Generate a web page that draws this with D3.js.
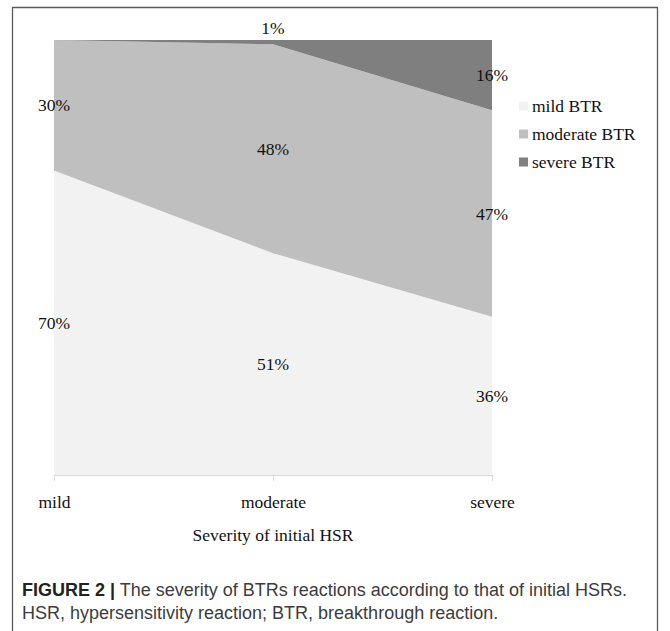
<!DOCTYPE html>
<html>
<head>
<meta charset="utf-8">
<script src="https://cdn.jsdelivr.net/npm/d3@7"></script>
<style>
  html, body { margin: 0; padding: 0; background: #fff; }
  svg { display: block; }
</style>
</head>
<body>
<svg id="chart" width="670" height="631"></svg>
<script>
// Severity of the initial hypersensitivity reaction (x categories)
const categories = ["mild", "moderate", "severe"];
// Share of breakthrough reactions by severity, in percent
const mildBTR = [70, 51, 36];
const moderateBTR = [30, 48, 47];
const severeBTR = [0, 1, 16];
const seriesNames = ["mild BTR", "moderate BTR", "severe BTR"];
const seriesColors = ["#f2f2f2", "#bfbfbf", "#7f7f7f"];
const xTitle = "Severity of initial HSR";
const captionBold = "FIGURE 2 |";
const captionLine1 = " The severity of BTRs reactions according to that of initial HSRs.";
const captionLine2 = "HSR, hypersensitivity reaction; BTR, breakthrough reaction.";

const rows = categories.map((c, i) => ({
  cat: c,
  "mild BTR": mildBTR[i],
  "moderate BTR": moderateBTR[i],
  "severe BTR": severeBTR[i]
}));

const svg = d3.select("#chart");
const serif = "'Liberation Serif', 'Times New Roman', serif";
const sans = "'Liberation Sans', Arial, Helvetica, sans-serif";

// figure frame
svg.append("path")
  .attr("d", "M12.5,631 V7.5 H657.5 V631")
  .attr("fill", "none")
  .attr("stroke", "#5a5a5a")
  .attr("stroke-width", 1.3);

const plot = { left: 54, right: 492, top: 40, bottom: 475 };

const x = d3.scalePoint().domain(categories).range([plot.left, plot.right]);
const y = d3.scaleLinear().domain([0, 1]).range([plot.bottom, plot.top]);

// 100% stacked areas
const stack = d3.stack().keys(seriesNames).offset(d3.stackOffsetExpand);
const layers = stack(rows);

const area = d3.area()
  .x(d => x(d.data.cat))
  .y0(d => y(d[0]))
  .y1(d => y(d[1]));

svg.append("g").selectAll("path")
  .data(layers)
  .join("path")
  .attr("d", area)
  .attr("fill", (d, i) => seriesColors[i]);

// category axis
const xAxis = d3.axisBottom(x).tickSize(6).tickPadding(15).tickFormat(d => d);
const gx = svg.append("g")
  .attr("transform", `translate(0,${plot.bottom})`)
  .call(xAxis);
gx.select(".domain").attr("stroke", "#d9d9d9").attr("d", `M${plot.left},0.5H${plot.right}`);
gx.selectAll(".tick line").attr("stroke", "#d9d9d9");
gx.selectAll(".tick text")
  .attr("font-family", serif)
  .attr("font-size", 17.5)
  .attr("fill", "#111");

// axis title
svg.append("text")
  .attr("x", x("moderate"))
  .attr("y", 541)
  .attr("text-anchor", "middle")
  .attr("font-family", serif)
  .attr("font-size", 17.5)
  .attr("fill", "#111")
  .text(xTitle);

// data labels at the middle of each band; a band too thin to hold one gets it above the plot
const labels = [];
layers.forEach((layer, si) => {
  layer.forEach((d, ci) => {
    const raw = [mildBTR, moderateBTR, severeBTR][si][ci];
    if (raw === 0) return;
    const thin = (y(d[0]) - y(d[1])) < 14;
    labels.push({
      text: raw + "%",
      x: x(d.data.cat),
      y: thin ? y(1) - 12 : y((d[0] + d[1]) / 2)
    });
  });
});
svg.append("g").selectAll("text")
  .data(labels)
  .join("text")
  .attr("x", d => d.x)
  .attr("y", d => d.y)
  .attr("dy", "0.35em")
  .attr("text-anchor", "middle")
  .attr("font-family", serif)
  .attr("font-size", 17.5)
  .attr("fill", "#111")
  .text(d => d.text);

// legend
const legend = svg.append("g").attr("transform", "translate(519,106)");
const li = legend.selectAll("g")
  .data(seriesNames)
  .join("g")
  .attr("transform", (d, i) => `translate(0,${i * 28})`);
li.append("rect")
  .attr("x", 0).attr("y", -4.5)
  .attr("width", 9).attr("height", 9)
  .attr("fill", (d, i) => seriesColors[i]);
li.append("text")
  .attr("x", 13)
  .attr("dy", "0.35em")
  .attr("font-family", serif)
  .attr("font-size", 17.5)
  .attr("fill", "#111")
  .text(d => d);

// caption
const cap = svg.append("text")
  .attr("x", 22)
  .attr("y", 596)
  .attr("font-family", sans)
  .attr("font-size", 18)
  .attr("fill", "#3c3c3c");
cap.append("tspan").attr("font-weight", "bold").attr("fill", "#222").text(captionBold);
cap.append("tspan").text(captionLine1);

svg.append("text")
  .attr("x", 22)
  .attr("y", 619)
  .attr("font-family", sans)
  .attr("font-size", 18)
  .attr("fill", "#3c3c3c")
  .text(captionLine2);
</script>
</body>
</html>
